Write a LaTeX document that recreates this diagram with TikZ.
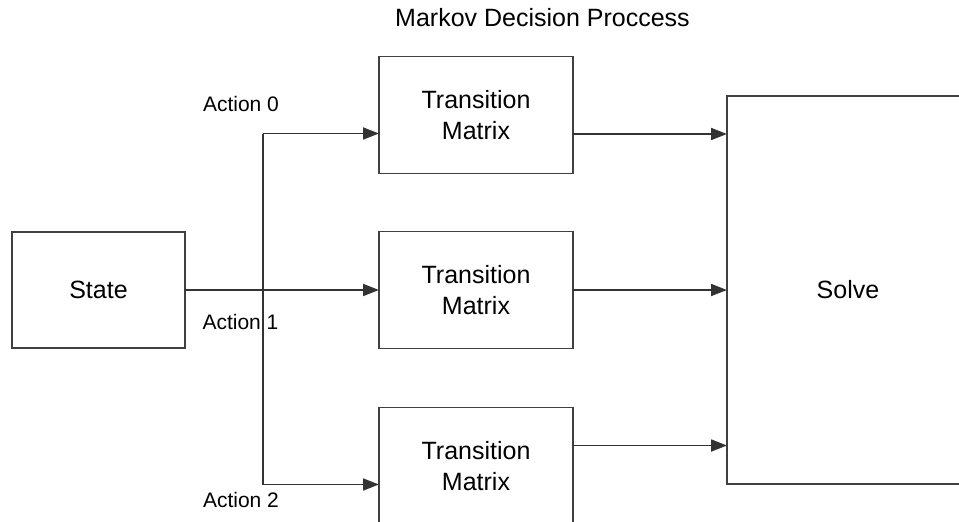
\documentclass[tikz,border=0pt]{standalone}
\usepackage{fontspec}
\setmainfont{Liberation Sans}
\usetikzlibrary{positioning,calc,arrows.meta}

\begin{document}
\begin{tikzpicture}[x=1pt, y=1pt, line width=1.8pt]
  % Styles
  \tikzstyle{statebox} = [rectangle, draw=black!75, outer sep=0pt, minimum width=173pt, minimum height=116pt, font=\fontsize{25}{31}\selectfont]
  \tikzstyle{matrixbox} = [rectangle, draw=black!75, outer sep=0pt, minimum width=194pt, minimum height=117pt, align=center, font=\fontsize{25}{31}\selectfont]
  \tikzstyle{solvebox} = [rectangle, draw=black!75, outer sep=0pt, minimum width=242pt, minimum height=388pt, font=\fontsize{25}{31}\selectfont]
  \tikzstyle{actionlabel} = [font=\fontsize{21}{25}\selectfont]
  \tikzstyle{arrow} = [draw=black!80, -{Triangle[length=16pt,width=12pt]}]
  \tikzstyle{wire} = [draw=black!80]

  % Frame
  \useasboundingbox (0,0) rectangle (959,-522);
  \clip (0,0) rectangle (959,-522);

  % Nodes
  \node[font=\fontsize{25}{30}\selectfont] (title) at (542.5,-17.5) {Markov Decision Proccess};
  \node[statebox] (state) at (98.5,-290) {State};
  \node[matrixbox, right=194pt of state] (tm1) {Transition\\Matrix};
  \node[matrixbox, above=58pt of tm1] (tm0) {Transition\\Matrix};
  \node[matrixbox, below=59pt of tm1] (tm2) {Transition\\Matrix};
  \node[solvebox, right=154pt of tm1] (solve) {Solve};

  \node[actionlabel] (act0) at (241,-104) {Action 0};
  \node[actionlabel] (act1) at (240.5,-322) {Action 1};
  \node[actionlabel] (act2) at (241,-500) {Action 2};

  % Edges
  \coordinate (split) at ($(state.east)!0.402!(tm1.west)$);
  \coordinate (in0) at ([yshift=-18.5pt]tm0.west);
  \coordinate (in2) at ([yshift=-18.5pt]tm2.west);
  \coordinate (out0) at ([yshift=-19pt]tm0.east);
  \coordinate (out2) at ([yshift=20.5pt]tm2.east);

  \path[arrow] (state) -- (tm1);
  \path[wire] (split |- in0) -- (split |- in2);
  \path[arrow] (split |- in0) -- (in0);
  \path[arrow] (split |- in2) -- (in2);

  \path[arrow] (out0) -- (out0 -| solve.west);
  \path[arrow] (tm1) -- (solve);
  \path[arrow] (out2) -- (out2 -| solve.west);

\end{tikzpicture}
\end{document}
